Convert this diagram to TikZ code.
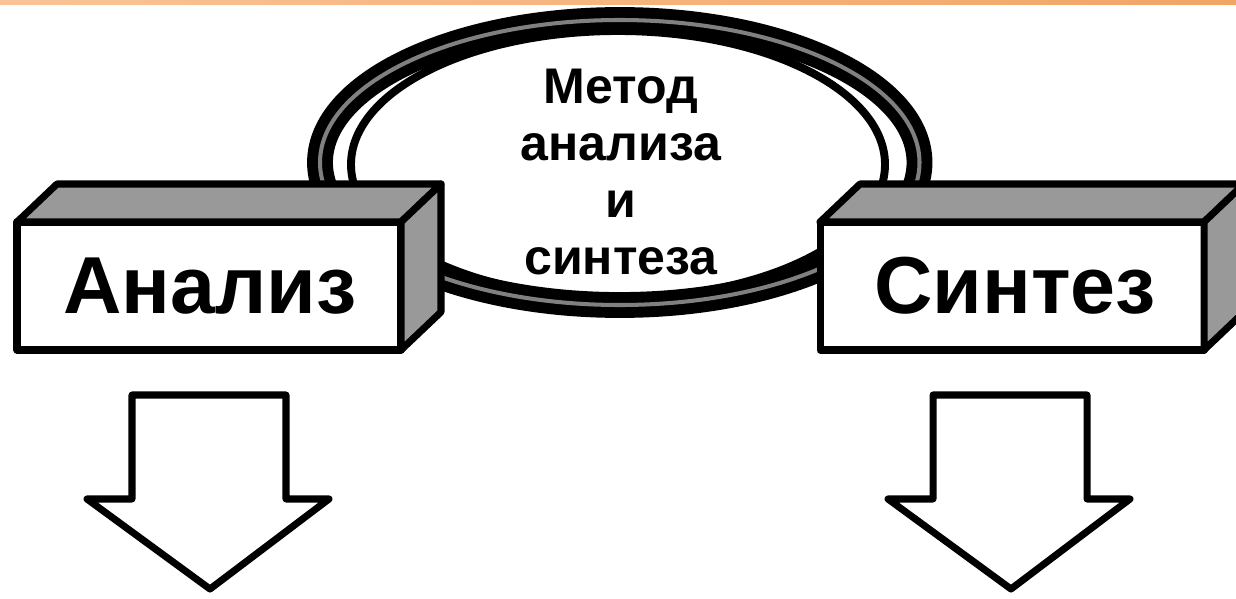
\documentclass[tikz,border=0pt]{standalone}
\usepackage{fontspec}
\setmainfont{Liberation Sans}
\definecolor{facegray}{HTML}{999999}
\definecolor{bandL}{HTML}{FAC396}
\definecolor{bandR}{HTML}{F1A565}
\begin{document}
\begin{tikzpicture}[x=0.02cm,y=-0.02cm,
    edge/.style={line width=4pt,line join=round},
    face/.style={edge,fill=facegray},
    boxtext/.style={font=\bfseries\fontsize{46}{46}\selectfont,anchor=base},
    ringtext/.style={font=\bfseries\fontsize{28.5}{32.3}\selectfont,align=center}]
        \useasboundingbox (0,0) rectangle (1236,598);
        \clip (0,0) rectangle (1236,598);
        %\fill[white] (0,0) rectangle (1236,598);
        \shade[left color=bandL, right color=bandR] (0,0) rectangle (1236,5);

        % ring
        \fill[white] (619.75,162.5) ellipse (299.75 and 142.5);
        \draw[line width=14.7pt] (619.75,162.5) ellipse (299.75 and 142.5);
        \draw[line width=2.3pt, gray] (619.75,162.5) ellipse (299.75 and 142.5);
        \draw[line width=4.5pt] (618,164.5) ellipse (267 and 133.5);
        \node[ringtext] (metod) at (621,172) {Метод\\анализа\\и\\синтеза};

        % boxes
        \foreach \x in {17,820} {
            \draw[edge,fill=white] (\x,222) rectangle (\x+384,350);
            \draw[face] (\x,222) -- (\x+40,184) -- (\x+424,184) -- (\x+384,222) -- cycle;
            \draw[face] (\x+384,222) -- (\x+424,184) -- (\x+424,312) -- (\x+384,350) -- cycle;
        }
        \node[boxtext] (anal) at (210,313) {Анализ};
        \node[boxtext] (sint) at (1015,313) {Синтез};

        % arrows
        \foreach \x in {209,1010}
            \draw[edge,fill=white] (\x-77,395) -- (\x+77,395) -- (\x+77,499) -- (\x+120,499)
                -- (\x+1,589) -- (\x-122,499) -- (\x-77,499) -- cycle;
\end{tikzpicture}
\end{document}
